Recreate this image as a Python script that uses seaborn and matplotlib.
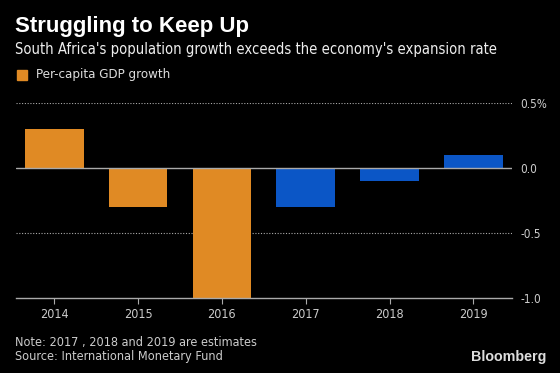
import matplotlib
matplotlib.use("Agg")
import matplotlib.pyplot as plt
import matplotlib.patches as mpatches
import seaborn as sns
import pandas as pd

years = ["2014", "2015", "2016", "2017", "2018", "2019"]
growth = [0.3, -0.3, -1.0, -0.3, -0.1, 0.1]
estimate = [False, False, False, True, True, True]

orange = "#E08A24"
blue = "#0B56C6"
colors = [blue if e else orange for e in estimate]

df = pd.DataFrame({"Year": years, "Growth": growth})

sns.set_style("dark")
plt.rcParams["font.family"] = ["DejaVu Sans"]
plt.rcParams["font.stretch"] = "condensed"

fig = plt.figure(figsize=(5.6, 3.73), dpi=100, facecolor="black")
ax = fig.add_axes([0.0286, 0.201, 0.8857, 0.523], facecolor="black")

sns.barplot(data=df, x="Year", y="Growth", hue="Year", palette=colors,
            legend=False, width=0.7, saturation=1, linewidth=0,
            edgecolor="none", ax=ax)

ax.set_xlim(-0.455, 5.46)
ax.set_ylim(-1.0, 0.5)
ax.set_xlabel("")
ax.set_ylabel("")

for s in ["top", "left", "right"]:
    ax.spines[s].set_visible(False)
ax.spines["bottom"].set_color("#aaaaaa")
ax.spines["bottom"].set_linewidth(1)

ax.grid(False)
for v in [0.5, -0.5]:
    ax.axhline(v, color="#aaaaaa", lw=0.8, ls=(0, (1, 1.5)), zorder=0)
ax.axhline(0, color="#aaaaaa", lw=1, zorder=3)

ax.yaxis.tick_right()
ax.set_yticks([0.5, 0.0, -0.5, -1.0])
ax.set_yticklabels(["0.5%", "0.0", "-0.5", "-1.0"])
ax.tick_params(axis="y", length=0, pad=6, labelsize=8.5, labelcolor="#cccccc")
ax.tick_params(axis="x", length=4, color="#aaaaaa", direction="out",
               labelsize=9, labelcolor="#cccccc", pad=3, bottom=True)

fig.text(0.027, 0.928, "Struggling to Keep Up", color="white",
         fontsize=16, fontweight="bold", va="center",
         family=["Liberation Sans", "DejaVu Sans"], fontstretch="normal")
fig.text(0.027, 0.866, "South Africa's population growth exceeds the economy's expansion rate",
         color="#eeeeee", fontsize=10.6, va="center")

fig.patches.append(mpatches.Rectangle((0.030, 0.786), 0.018, 0.027,
                                      transform=fig.transFigure, color=orange))
fig.text(0.064, 0.799, "Per-capita GDP growth", color="#dddddd",
         fontsize=9.5, va="center")

fig.text(0.027, 0.083, "Note: 2017 , 2018 and 2019 are estimates",
         color="#cccccc", fontsize=9.1, va="center")
fig.text(0.027, 0.045, "Source: International Monetary Fund",
         color="#cccccc", fontsize=9.1, va="center")
fig.text(0.975, 0.042, "Bloomberg", color="#dddddd", fontsize=10.3,
         fontweight="bold", ha="right", va="center",
         family=["Liberation Sans", "DejaVu Sans"], fontstretch="normal")

fig.savefig("out.png", dpi=100, facecolor="black")
